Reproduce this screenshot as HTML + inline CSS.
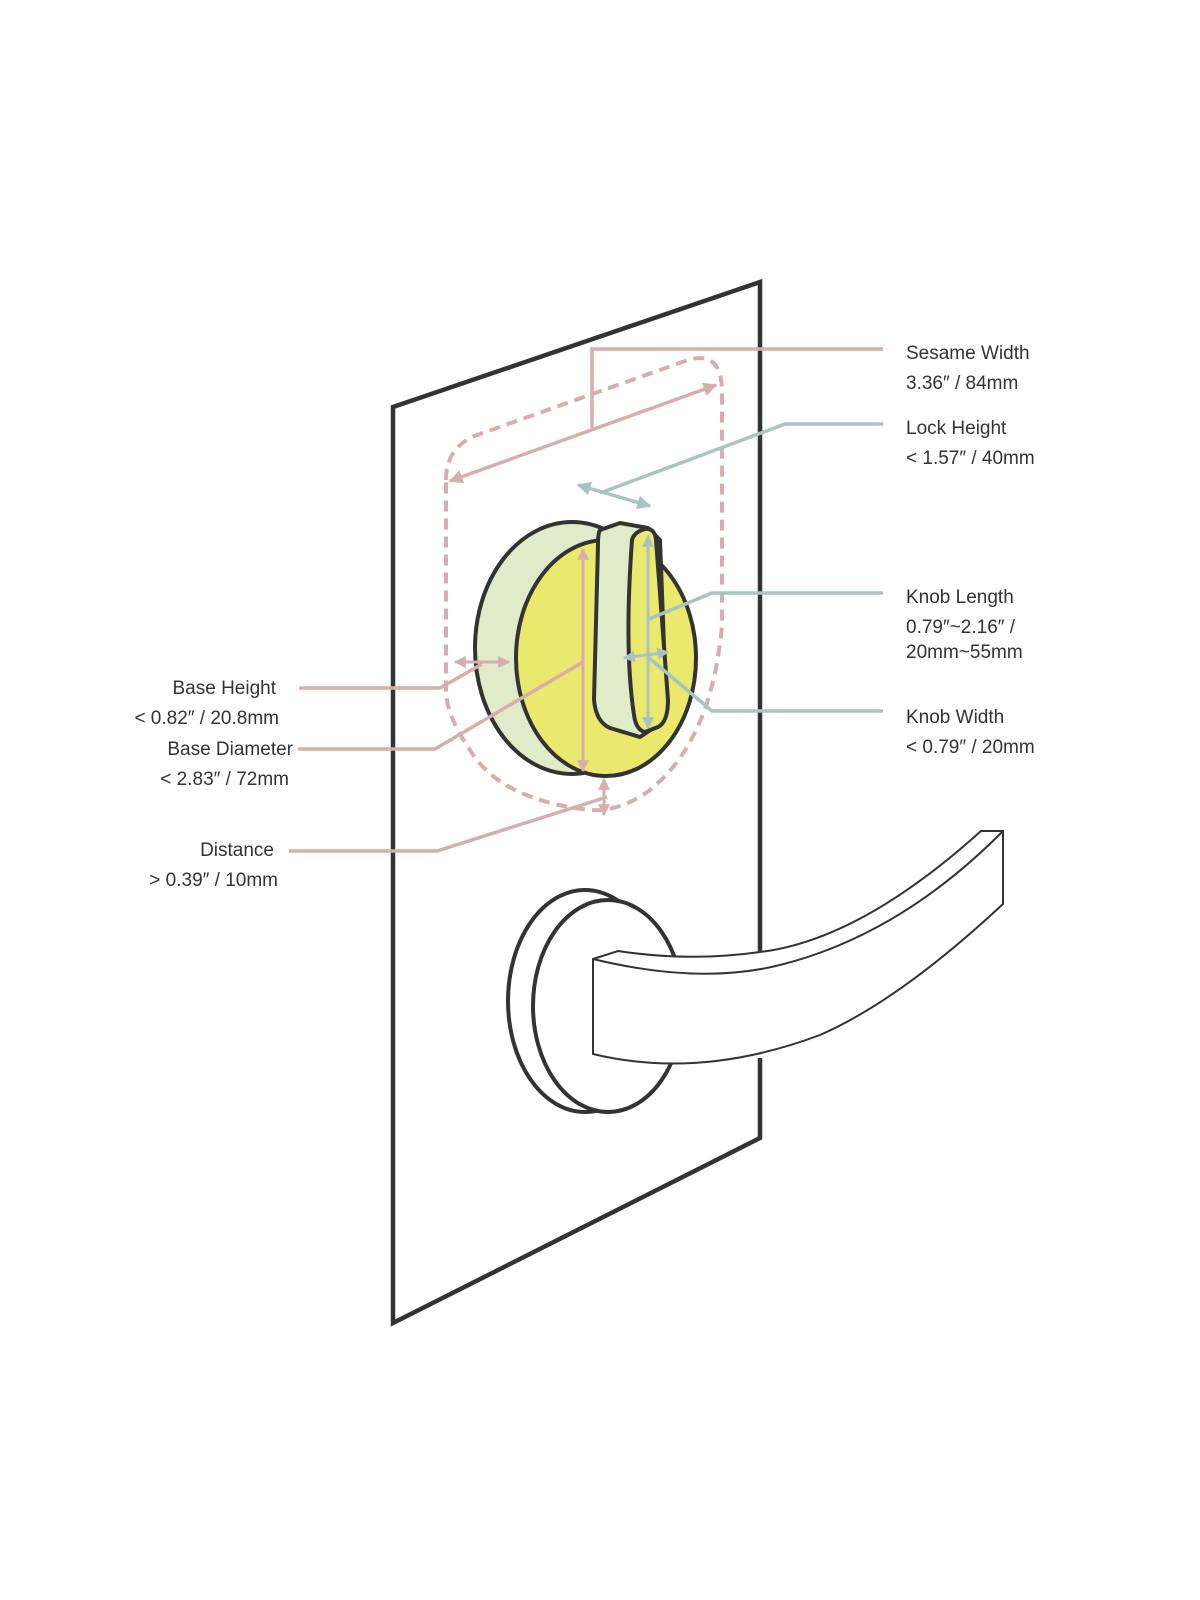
<!DOCTYPE html>
<html><head><meta charset="utf-8"><style>
html,body{margin:0;padding:0;background:#fff;}
svg{display:block;}
text{font-family:"Liberation Sans",sans-serif;font-size:19px;fill:#333;}
</style></head><body>
<svg width="1200" height="1600" viewBox="0 0 1200 1600" xmlns="http://www.w3.org/2000/svg">
<defs>
<marker id="ap" viewBox="0 0 10 10" refX="9" refY="5" markerWidth="4" markerHeight="4" orient="auto-start-reverse"><path d="M0,0 L10,5 L0,10 z" fill="#d6aeac"/></marker>
<marker id="at" viewBox="0 0 10 10" refX="9" refY="5" markerWidth="4" markerHeight="4" orient="auto-start-reverse"><path d="M0,0 L10,5 L0,10 z" fill="#a7c4c0"/></marker>
</defs>
<!-- door -->
<path d="M760,952 L760,282 L393,407 L393,1323 L760,1138 L760,1058" fill="none" stroke="#333" stroke-width="4.5" stroke-linejoin="miter"/>
<!-- dashed box -->
<path d="M446,480 Q446,445 480,434 L688,360 Q722,350 722,392 L722,625 Q712,740 650,790 Q620,812 590,810 Q500,800 470,750 Q446,715 446,690 Z" fill="none" stroke="#d6aeac" stroke-width="4" stroke-dasharray="11 7"/>
<!-- sesame width -->
<polyline points="883,349 592,349 592,428" fill="none" stroke="#d6aeac" stroke-width="3.5"/>
<line x1="450" y1="481" x2="716" y2="385" stroke="#d6aeac" stroke-width="3.5" marker-start="url(#ap)" marker-end="url(#ap)"/>
<!-- lock height -->
<polyline points="883,424 785,424 600,493" fill="none" stroke="#a7c4c0" stroke-width="3.5"/>
<line x1="578" y1="485" x2="650" y2="506" stroke="#a7c4c0" stroke-width="3.5" marker-start="url(#at)" marker-end="url(#at)"/>
<!-- knob base -->
<ellipse cx="572" cy="648" rx="97" ry="126" fill="#e0ecc9" stroke="#333" stroke-width="4"/>
<ellipse cx="606" cy="658" rx="90" ry="118" fill="#ebe86e" stroke="#333" stroke-width="4"/>
<!-- handle -->
<path d="M600,530 L620,523 L648,528 L660,540 L666,700 Q666,722 655,727 L640,737 L610,728 Q596,722 594,700 L598,545 Q598,533 600,530 Z" fill="#e0ecc9" stroke="#333" stroke-width="4" stroke-linejoin="round"/>
<path d="M632,540 Q634,532 645,529 Q655,528 656,540 Q662,620 668,700 Q668,722 658,727 L645,732 Q636,730 634,715 Q624,650 632,540 Z" fill="#ebe86e" stroke="#333" stroke-width="4" stroke-linejoin="round"/>
<!-- base diameter -->
<line x1="583" y1="549" x2="583" y2="771" stroke="#d6aeac" stroke-width="3" marker-start="url(#ap)" marker-end="url(#ap)"/>
<polyline points="298,749 435,749 583,662" fill="none" stroke="#d6aeac" stroke-width="3.5"/>
<!-- base height -->
<line x1="455" y1="662" x2="509" y2="662" stroke="#d6aeac" stroke-width="3" marker-start="url(#ap)" marker-end="url(#ap)"/>
<polyline points="299,688 440,688 482,664" fill="none" stroke="#d6aeac" stroke-width="3.5"/>
<!-- distance -->
<line x1="604" y1="779" x2="604" y2="815" stroke="#d6aeac" stroke-width="3" marker-start="url(#ap)" marker-end="url(#ap)"/>
<polyline points="289,851 437,851 607,797" fill="none" stroke="#d6aeac" stroke-width="3.5"/>
<!-- knob length -->
<line x1="648" y1="536" x2="648" y2="728" stroke="#a7c4c0" stroke-width="3" marker-start="url(#at)" marker-end="url(#at)"/>
<polyline points="883,593 712,593 649,619" fill="none" stroke="#a7c4c0" stroke-width="3.5"/>
<!-- knob width -->
<line x1="624" y1="658" x2="668" y2="652" stroke="#a7c4c0" stroke-width="3" marker-start="url(#at)" marker-end="url(#at)"/>
<polyline points="883,711 712,711 648,657" fill="none" stroke="#a7c4c0" stroke-width="3.5"/>
<!-- rosette -->
<ellipse cx="585" cy="1001" rx="77" ry="111" fill="#fff" stroke="#333" stroke-width="4"/>
<ellipse cx="608" cy="1006" rx="75" ry="106" fill="#fff" stroke="#333" stroke-width="4"/>
<!-- lever -->
<path d="M593,959 L618,951 Q690,962 760,952 Q860,940 981,831 L1003,831 L1003,904 Q900,1000 820,1035 Q700,1080 593,1054 Z" fill="#fff" stroke="#333" stroke-width="2"/>
<path d="M593,959 Q700,985 780,965 Q900,935 1003,831" fill="none" stroke="#333" stroke-width="2"/>
<line x1="593" y1="959" x2="593" y2="1054" stroke="#333" stroke-width="2"/>
<!-- labels right -->
<text x="906" y="359">Sesame Width</text>
<text x="906" y="389">3.36″ /  84mm</text>
<text x="906" y="434">Lock Height</text>
<text x="906" y="464">&lt; 1.57″ /  40mm</text>
<text x="906" y="603">Knob Length</text>
<text x="906" y="633">0.79″~2.16″ /</text>
<text x="906" y="658">20mm~55mm</text>
<text x="906" y="723">Knob Width</text>
<text x="906" y="753">&lt; 0.79″ / 20mm</text>
<!-- labels left -->
<text x="276" y="694" text-anchor="end">Base Height</text>
<text x="279" y="724" text-anchor="end">&lt; 0.82″ / 20.8mm</text>
<text x="293" y="755" text-anchor="end">Base Diameter</text>
<text x="289" y="785" text-anchor="end">&lt; 2.83″ / 72mm</text>
<text x="274" y="856" text-anchor="end">Distance</text>
<text x="278" y="886" text-anchor="end">&gt; 0.39″ /  10mm</text>
</svg>
</body></html>
